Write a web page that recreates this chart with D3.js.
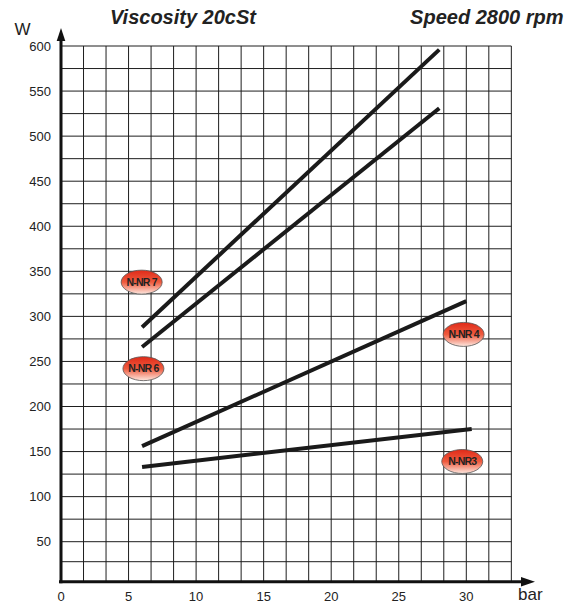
<!DOCTYPE html>
<html>
<head>
<meta charset="utf-8">
<script src="https://cdn.jsdelivr.net/npm/d3@7"></script>
<style>
  body { margin: 0; background: #fff; }
  text { font-family: "Liberation Sans", Arial, sans-serif; fill: #222; }
</style>
</head>
<body>
<script>
// Pump power curves (W) against pressure (bar)
const series = ["N-NR 7", "N-NR 6", "N-NR 4", "N-NR 3"];
const barStart = [6, 6, 6, 6];
const barEnd = [28, 28, 30, 30.4];
const powerStart = [288, 266, 156, 133];
const powerEnd = [596, 531, 317, 175];

// Labels (ellipses) next to the curves
const tagText = ["N-NR 7", "N-NR 6", "N-NR 4", "N-NR3"];
const tagBar = [5.97, 6.1, 29.8, 29.7];
const tagPower = [338, 242, 280, 139];

const xTicks = [0, 5, 10, 15, 20, 25, 30];
const yTicks = [50, 100, 150, 200, 250, 300, 350, 400, 450, 500, 550, 600];

const width = 577, height = 604;

const svg = d3.select("body")
    .append("svg")
    .attr("width", width)
    .attr("height", height);

// Scales (the bottom row of the grid is a bit squashed in the original)
const x = d3.scaleLinear().domain([0, 30]).range([61, 466.3]);
const y = d3.scaleLinear().domain([0, 50, 600]).range([581.7, 541.7, 46]);
const xMax = 100 / 3;

// Grid
const vLines = d3.range(1, 21).map(k => k * 5 / 3);
const hLines = d3.range(25, 625, 25);

svg.append("g").selectAll("line")
    .data(vLines)
    .enter()
    .append("line")
    .attr("x1", d => x(d)).attr("x2", d => x(d))
    .attr("y1", y(600)).attr("y2", y(0))
    .attr("stroke", "#1e1e1e")
    .attr("stroke-width", 1);

svg.append("g").selectAll("line")
    .data(hLines)
    .enter()
    .append("line")
    .attr("x1", x(0)).attr("x2", x(xMax))
    .attr("y1", d => y(d)).attr("y2", d => y(d))
    .attr("stroke", "#1e1e1e")
    .attr("stroke-width", 1);

// Axes with arrows
svg.append("line")
    .attr("x1", x(0) - 2).attr("x2", 524)
    .attr("y1", y(0)).attr("y2", y(0))
    .attr("stroke", "#111").attr("stroke-width", 3);
svg.append("path")
    .attr("d", `M521,${y(0) - 4.7}L535,${y(0)}L521,${y(0) + 4.7}Z`)
    .attr("fill", "#111");

svg.append("line")
    .attr("x1", x(0)).attr("x2", x(0))
    .attr("y1", y(0) + 1.5).attr("y2", 38)
    .attr("stroke", "#111").attr("stroke-width", 3);
svg.append("path")
    .attr("d", `M${x(0) - 4.3},41L${x(0)},28L${x(0) + 4.3},41Z`)
    .attr("fill", "#111");

// Tick labels
svg.selectAll(".ylab")
    .data(yTicks)
    .enter()
    .append("text")
    .attr("x", 51)
    .attr("y", d => y(d))
    .attr("dy", "0.36em")
    .attr("text-anchor", "end")
    .attr("font-size", 13)
    .text(d => d);

svg.selectAll(".xlab")
    .data(xTicks)
    .enter()
    .append("text")
    .attr("x", d => x(d))
    .attr("y", 601)
    .attr("text-anchor", "middle")
    .attr("font-size", 13)
    .text(d => d);

svg.append("text").attr("x", 518).attr("y", 600).attr("font-size", 17).text("bar");
svg.append("text").attr("x", 14.5).attr("y", 35).attr("font-size", 17).text("W");

// Titles
svg.append("text")
    .attr("x", 183).attr("y", 23.5)
    .attr("text-anchor", "middle")
    .attr("font-size", 20).attr("font-weight", "bold").attr("font-style", "italic")
    .text("Viscosity 20cSt");
svg.append("text")
    .attr("x", 563.5).attr("y", 23.5)
    .attr("text-anchor", "end")
    .attr("font-size", 20).attr("font-weight", "bold").attr("font-style", "italic")
    .text("Speed 2800 rpm");

// Curves
svg.selectAll(".curve")
    .data(series)
    .enter()
    .append("line")
    .attr("x1", (d, i) => x(barStart[i]))
    .attr("y1", (d, i) => y(powerStart[i]))
    .attr("x2", (d, i) => x(barEnd[i]))
    .attr("y2", (d, i) => y(powerEnd[i]))
    .attr("stroke", "#1a1a1a")
    .attr("stroke-width", 4);

// Ellipse tags
const grad = svg.append("defs").append("linearGradient")
    .attr("id", "tagFill")
    .attr("x1", 0).attr("y1", 0).attr("x2", 0).attr("y2", 1);
grad.append("stop").attr("offset", "0%").attr("stop-color", "#e02a18");
grad.append("stop").attr("offset", "50%").attr("stop-color", "#ee5a3e");
grad.append("stop").attr("offset", "100%").attr("stop-color", "#fde8e0");

const tags = svg.selectAll(".tag")
    .data(tagText)
    .enter()
    .append("g")
    .attr("transform", (d, i) => `translate(${x(tagBar[i])},${y(tagPower[i])})`);

tags.append("ellipse")
    .attr("rx", 20.5).attr("ry", 12)
    .attr("fill", "url(#tagFill)")
    .attr("stroke", "#555")
    .attr("stroke-width", 0.8);

tags.append("text")
    .attr("text-anchor", "middle")
    .attr("dy", "0.36em")
    .attr("font-size", 10.5)
    .attr("font-weight", "bold")
    .attr("letter-spacing", -0.8)
    .attr("fill", "#111")
    .text(d => d);
</script>
</body>
</html>
